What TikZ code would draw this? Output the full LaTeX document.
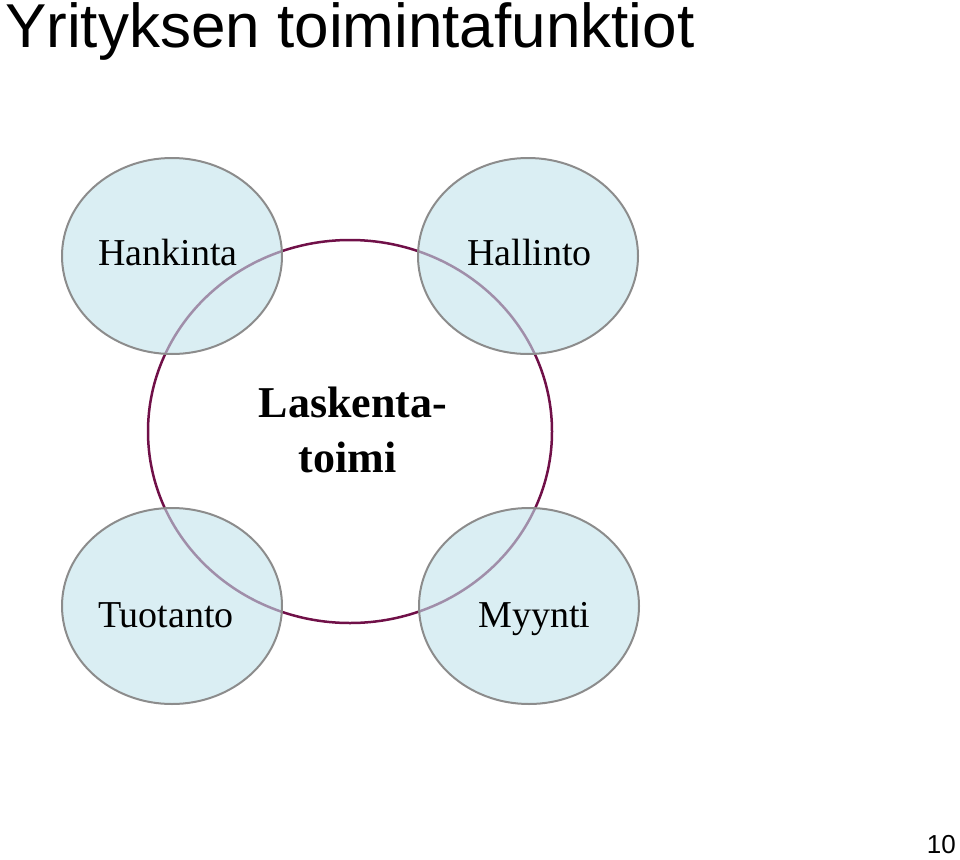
\documentclass[tikz,border=0pt]{standalone}
\usepackage{fontspec}
\setmainfont{Liberation Serif}
\setsansfont{Liberation Sans}
\usetikzlibrary{shapes.geometric}
\definecolor{funcfill}{RGB}{193,227,235}
\definecolor{funcline}{RGB}{140,140,140}
\definecolor{acctline}{RGB}{112,16,72}
\tikzset{ f/.style = { ellipse % function
        , draw = funcline
        , line width = 2pt
        , fill = funcfill
        , fill opacity = 0.6
        , minimum width = 220pt
        , minimum height = 196pt
        , inner sep = 0pt
        }
        , w/.style = { anchor = base % function name
        , inner sep = 0pt
        , font = \fontsize{38}{46}\selectfont
        }
        }
\begin{document}
\begin{tikzpicture}[x=1pt, y=-1pt,
        title_style/.style={anchor=base west,inner sep=0pt,font=\sffamily\fontsize{62}{74}\selectfont},
        page_style/.style={anchor=base east,inner sep=0pt,font=\sffamily\fontsize{26}{31}\selectfont},
        acct_style/.style={ellipse,draw=acctline,line width=2.5pt,minimum width=404pt,minimum height=383pt,inner sep=0pt},
        acct_text_style/.style={anchor=base,inner sep=0pt,font=\bfseries\fontsize{44}{55}\selectfont}]
        \useasboundingbox (0,0) rectangle (960,859);

        \node [title_style](h0) at (5,48) {Yrityksen toimintafunktiot};
        \node [acct_style](c0) at (350,431.5) {};

        \node [f](e1) at (172,256) {};
        \node [f](e2) at (528,256) {};
        \node [f](e3) at (172,606) {};
        \node [f](e4) at (529,606) {};

        \node [w](n1) at (168,265) {Hankinta};
        \node [w](n2) at (529.5,265) {Hallinto};
        \node [w](n3) at (166,627) {Tuotanto};
        \node [w](n4) at (534.5,627) {Myynti};

        \node [acct_text_style](a1) at (353,417) {Laskenta-};
        \node [acct_text_style](a2) at (347.5,472) {toimi};

        \node [page_style](p0) at (956,853) {10};
\end{tikzpicture}
\end{document}
